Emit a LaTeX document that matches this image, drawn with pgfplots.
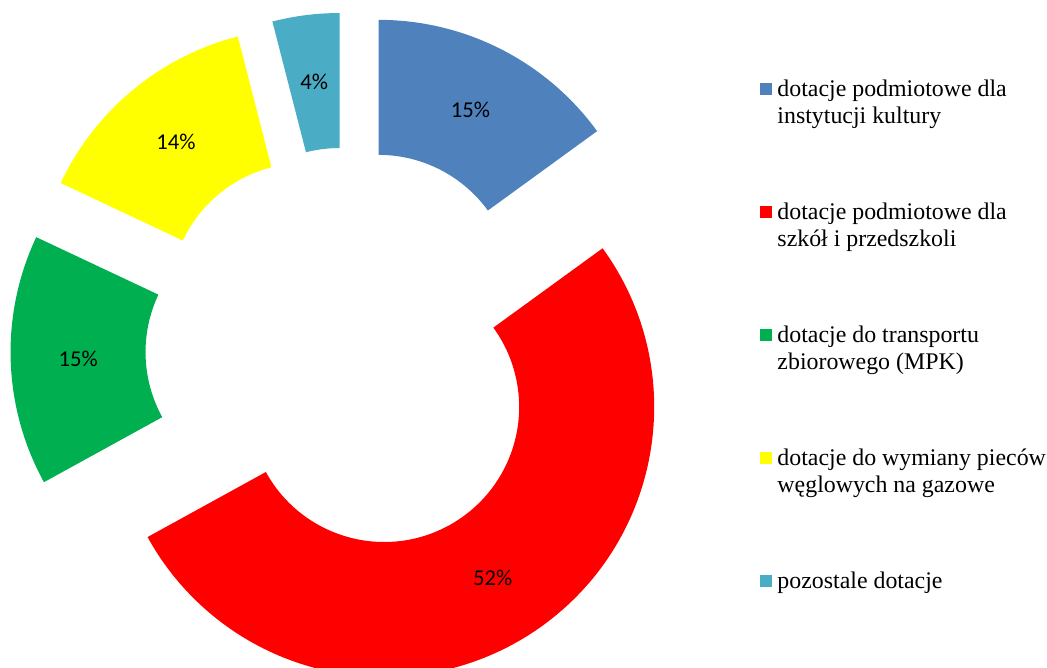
\documentclass[border=0pt]{standalone}
\usepackage{fontspec}
\setmainfont{Liberation Serif}
\newfontfamily\calib{Carlito}
\usepackage{pgfplots}
\pgfplotsset{compat=1.18}
\definecolor{cA}{HTML}{4F81BD}
\definecolor{cB}{HTML}{FF0000}
\definecolor{cC}{HTML}{00B050}
\definecolor{cD}{HTML}{FFFF00}
\definecolor{cE}{HTML}{4BACC6}
% start angle, end angle, colour, label, mid angle
\newcommand\donutslice[5]{%
  \fill[#3, shift={(axis cs:348,318)}, shift={(#5:50.625pt)}]
    (#1:202.5pt) arc[start angle=#1, end angle=#2, radius=202.5pt]
    -- (#2:101.25pt) arc[start angle=#2, end angle=#1, radius=101.25pt] -- cycle;
  \node[font=\calib\fontsize{17}{20}\selectfont, text=black, inner sep=0pt,
        shift={(axis cs:348,318)}, shift={(#5:50.625pt)}] at (#5:151.875pt) {#4};
}
\begin{document}
\begin{tikzpicture}
% shares in percent
\def\vA{15}\def\vB{52}\def\vC{15}\def\vD{14}\def\vE{4}
\pgfmathsetmacro\aA{90}
\pgfmathsetmacro\aB{\aA-3.6*\vA}
\pgfmathsetmacro\aC{\aB-3.6*\vB}
\pgfmathsetmacro\aD{\aC-3.6*\vC}
\pgfmathsetmacro\aE{\aD-3.6*\vD}
\pgfmathsetmacro\aF{\aE-3.6*\vE}
\pgfmathsetmacro\mA{(\aA+\aB)/2}
\pgfmathsetmacro\mB{(\aB+\aC)/2}
\pgfmathsetmacro\mC{(\aC+\aD)/2}
\pgfmathsetmacro\mD{(\aD+\aE)/2}
\pgfmathsetmacro\mE{(\aE+\aF)/2}
\begin{axis}[
  x=0.75pt, y=0.75pt,
  xmin=0, xmax=1047, ymin=0, ymax=668,
  hide axis,
  legend style={at={(0.7252,0.8832)}, anchor=north west, draw=none, fill=none,
    inner sep=0pt, row sep=52.45pt, column sep=4.5pt,
    cells={anchor=base west},
    nodes={inner sep=0pt, text depth=, font=\fontsize{17.9}{19.9}\selectfont}},
  legend image code/.code={\fill[#1] (0pt,2pt) rectangle (8.55pt,10.55pt);},
]
\addplot[draw=none, forget plot] coordinates {(0,0) (1047,668)};
\donutslice{\aA}{\aB}{cA}{\vA\%}{\mA}
\donutslice{\aB}{\aC}{cB}{\vB\%}{\mB}
\donutslice{\aC}{\aD}{cC}{\vC\%}{\mC}
\donutslice{\aD}{\aE}{cD}{\vD\%}{\mD}
\donutslice{\aE}{\aF}{cE}{\vE\%}{\mE}
\addlegendimage{cA}
\addlegendentry{\begin{tabular}[t]{@{}l@{}}dotacje podmiotowe dla\\instytucji kultury\end{tabular}}
\addlegendimage{cB}
\addlegendentry{\begin{tabular}[t]{@{}l@{}}dotacje podmiotowe dla\\szkół i przedszkoli\end{tabular}}
\addlegendimage{cC}
\addlegendentry{\begin{tabular}[t]{@{}l@{}}dotacje do transportu\\zbiorowego (MPK)\end{tabular}}
\addlegendimage{cD}
\addlegendentry{\begin{tabular}[t]{@{}l@{}}dotacje do wymiany pieców\\węglowych na gazowe\end{tabular}}
\addlegendimage{cE}
\addlegendentry{\begin{tabular}[t]{@{}l@{}}pozostale dotacje\end{tabular}}
\end{axis}
\end{tikzpicture}
\end{document}
